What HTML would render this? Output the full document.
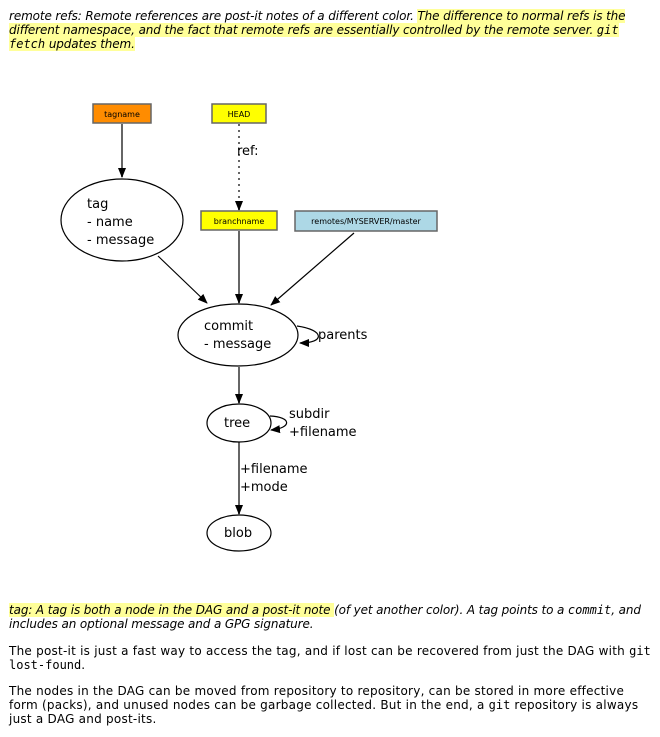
<!DOCTYPE html>
<html><head><meta charset="utf-8"><style>
body{margin:0;width:660px;height:737px;background:#fff;font-family:"DejaVu Sans","Liberation Sans",sans-serif;font-size:12px;color:#000;position:relative;overflow:hidden}
p{position:absolute;left:9px;margin:0;line-height:14px;width:660px;white-space:nowrap;letter-spacing:0.24px}
p.it{letter-spacing:-0.12px}
.hl{background:#ffff99}
code{font-family:"DejaVu Sans Mono","Liberation Mono",monospace;font-size:12px;letter-spacing:0}
i{font-style:italic}
</style></head><body>
<p class="it" style="top:9px"><i>remote refs: Remote references are post-it notes of a different color. <span class="hl">The difference to normal refs is the<br>different namespace, and the fact that remote refs are essentially controlled by the remote server. <code>git</code><br><code>fetch</code> updates them.</span></i></p>
<svg width="660" height="737" style="position:absolute;left:0;top:0" font-family="DejaVu Sans, Liberation Sans, sans-serif">
<defs><marker id="a" markerWidth="10" markerHeight="10" refX="9" refY="5" orient="auto" markerUnits="userSpaceOnUse"><path d="M0,1 L10,5 L0,9 z" fill="#000"/></marker></defs>
<g stroke="#666" stroke-width="2" fill="none">
<line x1="122" y1="124" x2="122" y2="177" marker-end="url(#a)"/>
<line x1="239" y1="124" x2="239" y2="210" stroke-dasharray="2,4" marker-end="url(#a)"/>
<line x1="239" y1="231" x2="239" y2="303" marker-end="url(#a)"/>
<line x1="239" y1="367" x2="239" y2="403" marker-end="url(#a)"/>
<line x1="239" y1="442" x2="239" y2="514" marker-end="url(#a)"/>
</g>
<g stroke="#000" stroke-width="1.2" fill="none">
<line x1="158" y1="256" x2="207" y2="303" marker-end="url(#a)"/>
<line x1="354" y1="233" x2="271" y2="305" marker-end="url(#a)"/>
<path d="M297,326 C325,330 325,343 300,343" marker-end="url(#a)"/>
<path d="M270,416 C292,417 292,428 271,430" marker-end="url(#a)"/>
</g>
<rect x="93" y="104" width="58" height="19" fill="#ff8c00" stroke="#666" stroke-width="1.5"/>
<text x="122" y="117" font-size="8" text-anchor="middle">tagname</text>
<rect x="212" y="104" width="54" height="19" fill="#ffff00" stroke="#666" stroke-width="1.5"/>
<text x="239" y="117" font-size="8" text-anchor="middle">HEAD</text>
<rect x="201" y="211" width="76" height="19" fill="#ffff00" stroke="#666" stroke-width="1.5"/>
<text x="239" y="224" font-size="8" text-anchor="middle">branchname</text>
<rect x="295" y="211" width="142" height="20" fill="#add8e6" stroke="#666" stroke-width="1.5"/>
<text x="366" y="224" font-size="8" text-anchor="middle">remotes/MYSERVER/master</text>
<g fill="#fff" stroke="#000" stroke-width="1.2">
<ellipse cx="122" cy="220" rx="61" ry="41"/>
<ellipse cx="238" cy="335" rx="60" ry="31"/>
<ellipse cx="239" cy="423" rx="32" ry="19"/>
<ellipse cx="239" cy="533" rx="32" ry="18"/>
</g>
<g font-size="13">
<text x="237" y="155">ref:</text>
<text x="87" y="208">tag</text>
<text x="87" y="226">- name</text>
<text x="87" y="244">- message</text>
<text x="204" y="330">commit</text>
<text x="204" y="348">- message</text>
<text x="318" y="339">parents</text>
<text x="224" y="427">tree</text>
<text x="289" y="418">subdir</text>
<text x="289" y="436">+filename</text>
<text x="240" y="473">+filename</text>
<text x="240" y="491">+mode</text>
<text x="224" y="537">blob</text>
</g>
</svg>
<p class="it" style="top:603px"><i><span class="hl">tag: A tag is both a node in the DAG and a post-it note </span>(of yet another color). A tag points to a <code>commit</code>, and<br>includes an optional message and a GPG signature.</i></p>
<p style="top:644px">The post-it is just a fast way to access the tag, and if lost can be recovered from just the DAG with <code>git</code><br><code>lost-found</code>.</p>
<p style="top:684px">The nodes in the DAG can be moved from repository to repository, can be stored in more effective<br>form (packs), and unused nodes can be garbage collected. But in the end, a <code>git</code> repository is always<br>just a DAG and post-its.</p>
</body></html>
